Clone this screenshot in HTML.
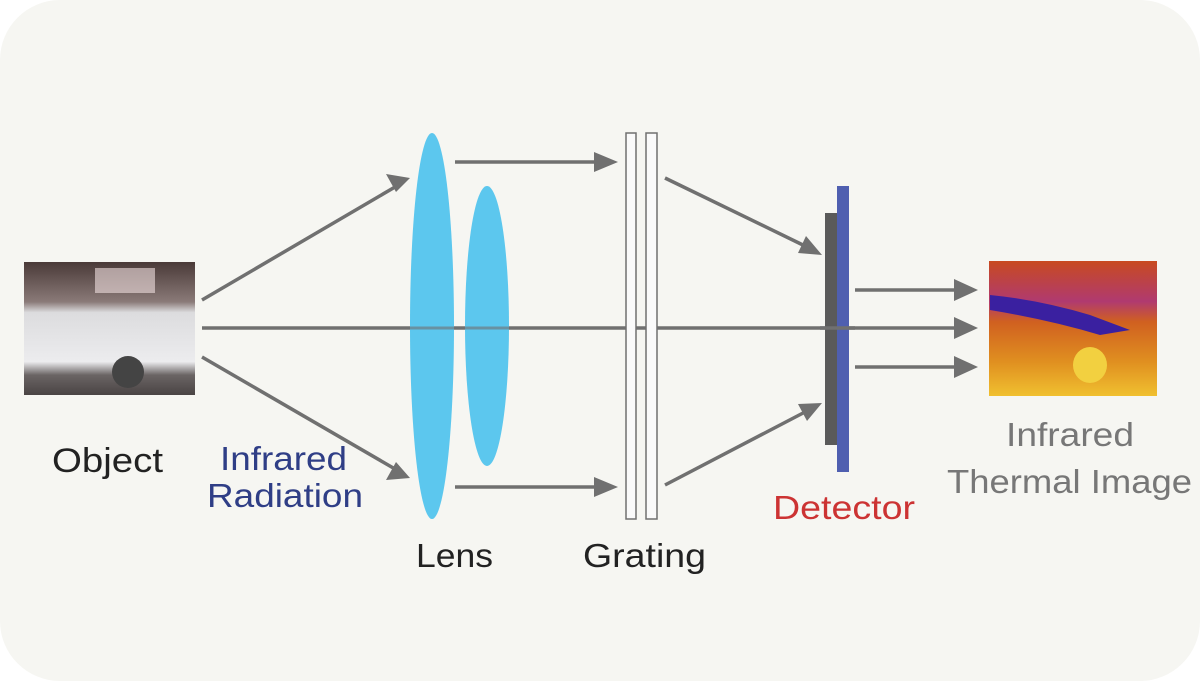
<!DOCTYPE html>
<html><head><style>
html,body{margin:0;padding:0;background:#fff;}
svg{display:block;}
text{font-family:"Liberation Sans",sans-serif;}
</style></head><body>
<svg width="1200" height="681" viewBox="0 0 1200 681" xmlns="http://www.w3.org/2000/svg">
<defs>
<linearGradient id="car" x1="0" y1="0" x2="0" y2="1">
<stop offset="0" stop-color="#4a3a38"/><stop offset="0.3" stop-color="#8a7a78"/><stop offset="0.38" stop-color="#dcdcde"/><stop offset="0.75" stop-color="#ececee"/><stop offset="0.85" stop-color="#6a6464"/><stop offset="1" stop-color="#4a4444"/>
</linearGradient>
<linearGradient id="th" x1="0" y1="0" x2="0" y2="1">
<stop offset="0" stop-color="#c84a20"/><stop offset="0.3" stop-color="#b03a70"/><stop offset="0.45" stop-color="#d06020"/><stop offset="0.75" stop-color="#e09020"/><stop offset="1" stop-color="#f0c030"/>
</linearGradient>
</defs>
<rect x="0" y="0" width="1200" height="681" rx="60" fill="#f6f6f2"/>
<rect x="24" y="262" width="171" height="133" fill="url(#car)"/>
<rect x="95" y="268" width="60" height="25" fill="#f0e0e0" opacity="0.6"/>
<ellipse cx="128" cy="372" rx="16" ry="16" fill="#444"/>
<rect x="989" y="261" width="168" height="135" fill="url(#th)"/>
<path d="M990 295 Q1040 300 1090 315 L1130 330 L1100 335 Q1050 320 990 310 Z" fill="#3a20a0"/>
<ellipse cx="1090" cy="365" rx="17" ry="18" fill="#f2d040"/>
<g stroke="#707070" stroke-width="3.5" fill="none">
<line x1="202" y1="300" x2="395" y2="187"/>
<line x1="202" y1="328" x2="955" y2="328"/>
<line x1="202" y1="357" x2="395" y2="469"/>
<line x1="455" y1="162" x2="598" y2="162"/>
<line x1="455" y1="487" x2="598" y2="487"/>
<line x1="665" y1="178" x2="805" y2="246"/>
<line x1="665" y1="485" x2="805" y2="412"/>
<line x1="855" y1="290" x2="958" y2="290"/>
<line x1="855" y1="367" x2="958" y2="367"/>
</g>
<g fill="#707070">
<polygon points="410,178 386,174 396,192"/>
<polygon points="410,478 396,462 386,480"/>
<polygon points="618,162 594,152 594,172"/>
<polygon points="618,487 594,477 594,497"/>
<polygon points="822,255 806,236 798,253"/>
<polygon points="822,403 798,404 807,421"/>
<polygon points="978,290 954,279 954,301"/>
<polygon points="978,328 954,317 954,339"/>
<polygon points="978,367 954,356 954,378"/>
</g>
<ellipse cx="432" cy="326" rx="22" ry="193" fill="#5cc7ee"/>
<ellipse cx="487" cy="326" rx="22" ry="140" fill="#5cc7ee"/>
<line x1="202" y1="328" x2="700" y2="328" stroke="#707070" stroke-width="3" opacity="0.6"/>
<rect x="626" y="133" width="10" height="386" fill="#fafafa" stroke="#707070" stroke-width="1.5"/>
<rect x="646" y="133" width="11" height="386" fill="#fafafa" stroke="#707070" stroke-width="1.5"/>
<rect x="825" y="213" width="13" height="232" fill="#5a5a5a"/>
<rect x="837" y="186" width="12" height="286" fill="#4f5fb0"/>
<line x1="820" y1="328" x2="855" y2="328" stroke="#707070" stroke-width="3.5"/>
<text x="52" y="472" font-size="34" fill="#222" textLength="111" lengthAdjust="spacingAndGlyphs">Object</text>
<text x="220" y="470" font-size="33" fill="#2f3e86" textLength="127" lengthAdjust="spacingAndGlyphs">Infrared</text>
<text x="207" y="507" font-size="33" fill="#2f3e86" textLength="156" lengthAdjust="spacingAndGlyphs">Radiation</text>
<text x="416" y="567" font-size="33" fill="#222" textLength="77" lengthAdjust="spacingAndGlyphs">Lens</text>
<text x="583" y="567" font-size="33" fill="#222" textLength="123" lengthAdjust="spacingAndGlyphs">Grating</text>
<text x="773" y="519" font-size="33" fill="#cc3333" textLength="142" lengthAdjust="spacingAndGlyphs">Detector</text>
<text x="1006" y="446" font-size="33" fill="#777" textLength="128" lengthAdjust="spacingAndGlyphs">Infrared</text>
<text x="947" y="493" font-size="33" fill="#777" textLength="245" lengthAdjust="spacingAndGlyphs">Thermal Image</text>
</svg>
</body></html>
